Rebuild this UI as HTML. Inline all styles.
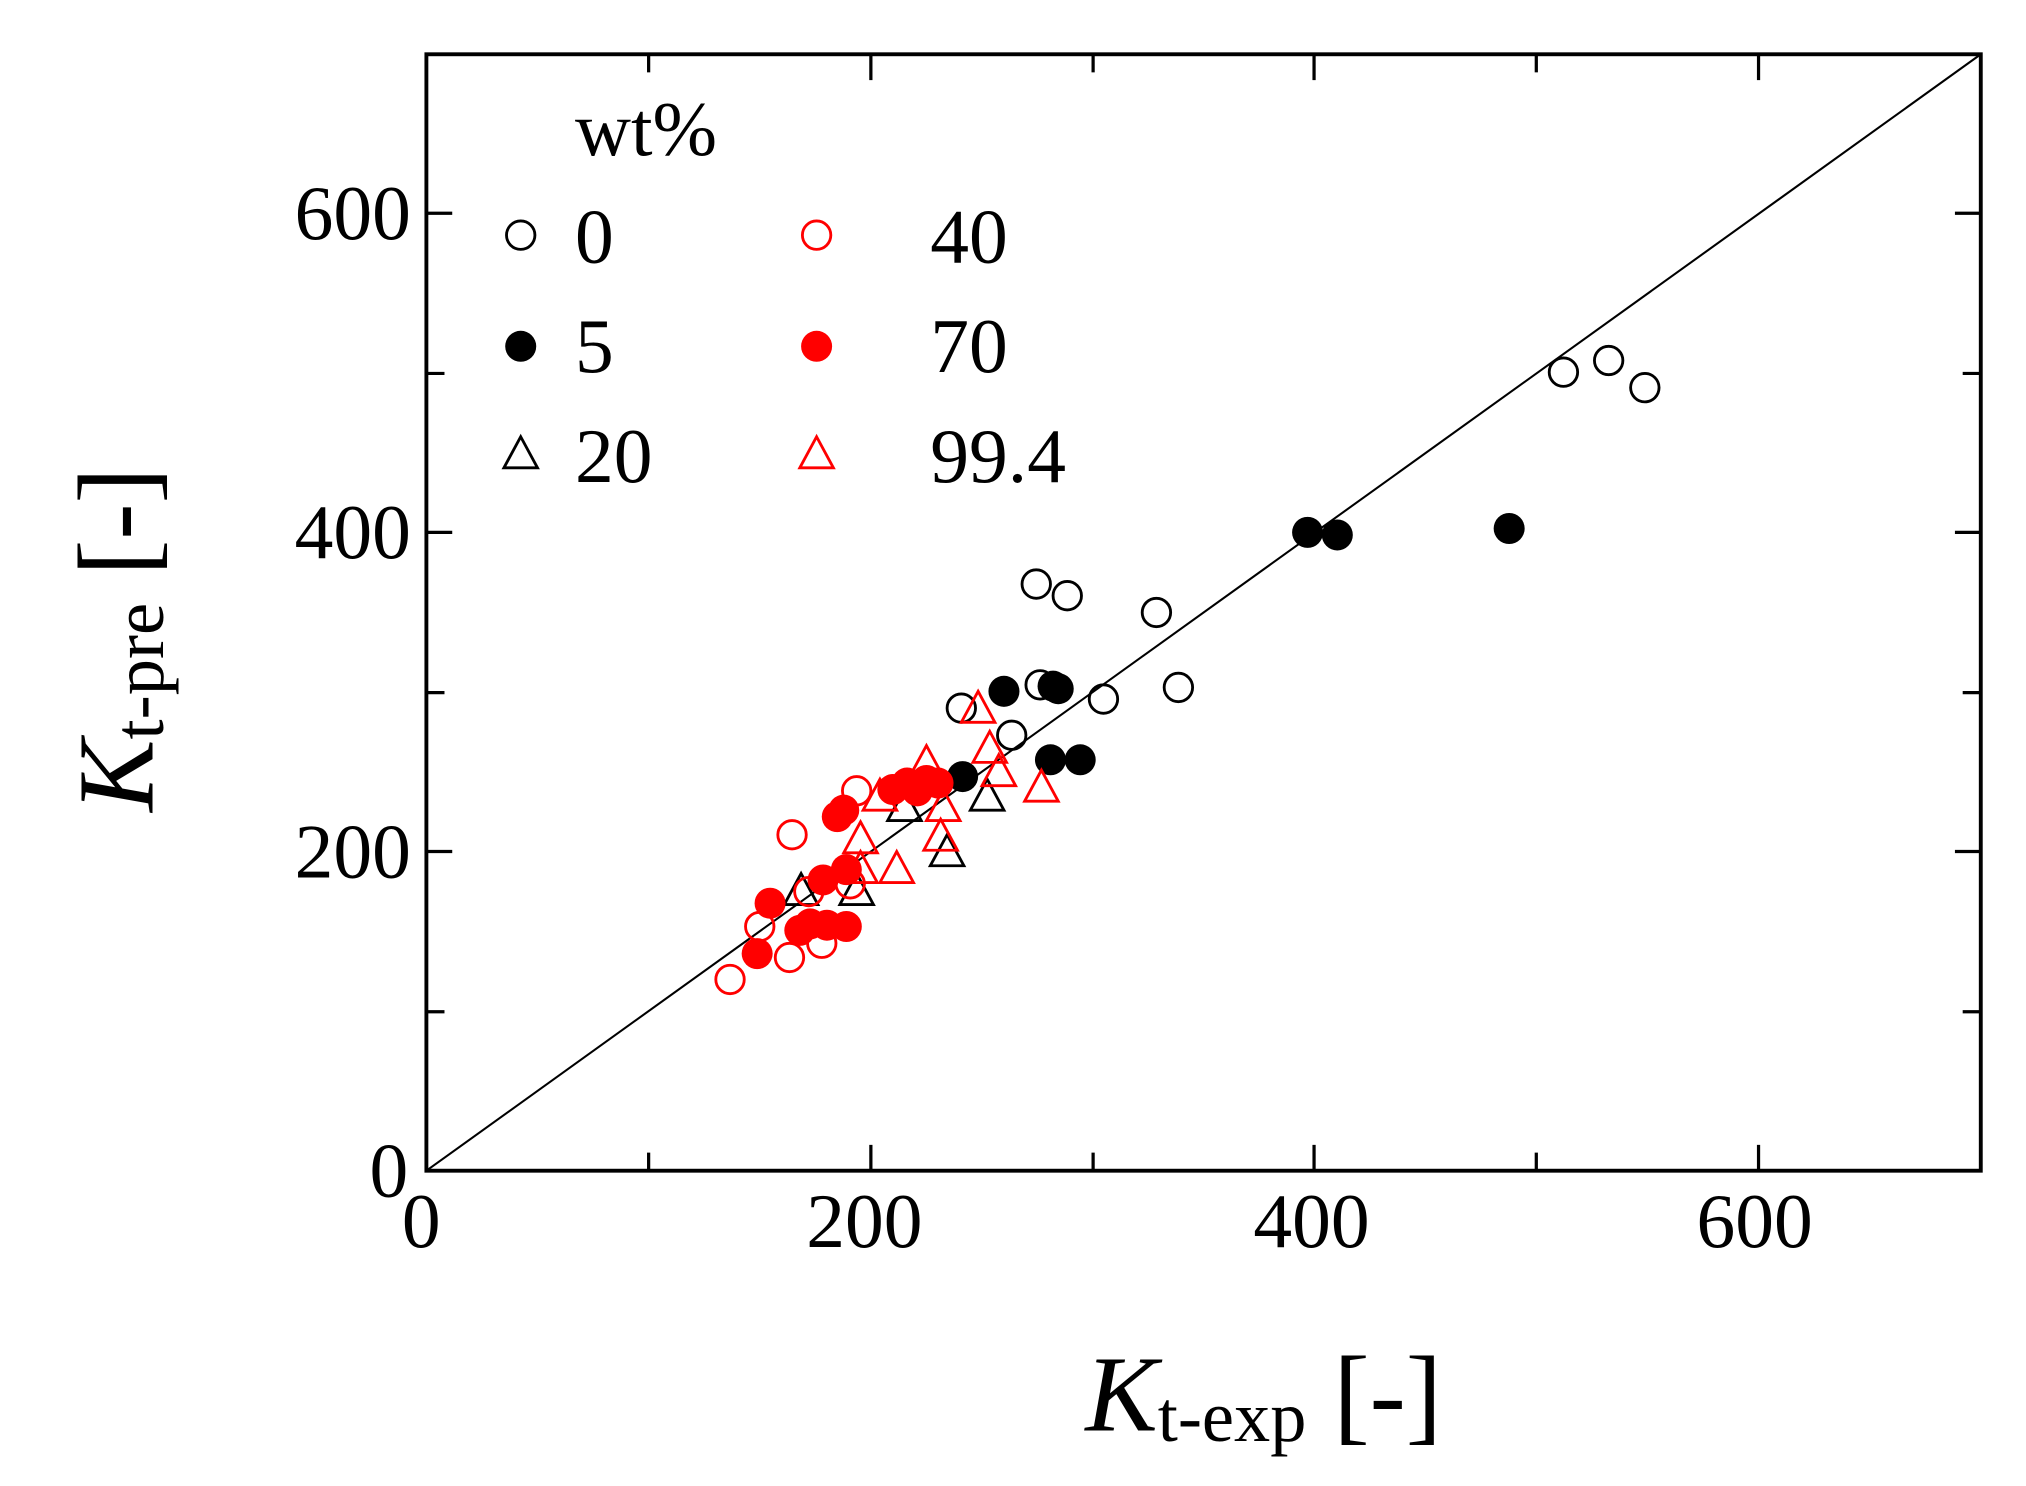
<!DOCTYPE html>
<html><head><meta charset="utf-8"><style>
html,body{margin:0;padding:0;background:#fff;}
svg{display:block;}
text{font-family:"Liberation Serif",serif;fill:#000;}
</style></head><body>
<svg width="2026" height="1486" viewBox="0 0 1568 1150" preserveAspectRatio="none" xmlns="http://www.w3.org/2000/svg">
<defs>
<circle id="oc" r="11" fill="none" stroke="#000" stroke-width="2.2"/>
<circle id="fc" r="12" fill="#000"/>
<circle id="ro" r="11" fill="none" stroke="#f00" stroke-width="2.2"/>
<circle id="rf" r="12" fill="#f00"/>
<path id="bt" d="M0,-14 L13,10 L-13,10 Z" fill="none" stroke="#000" stroke-width="2.2"/>
<path id="rt" d="M0,-14 L13,10 L-13,10 Z" fill="none" stroke="#f00" stroke-width="2.2"/>
</defs>
<!-- diagonal -->
<line x1="330" y1="906" x2="1533" y2="42" stroke="#000" stroke-width="1.6"/>
<!-- ticks -->
<g stroke="#000" stroke-width="2.5">
<line x1="502" y1="906" x2="502" y2="892"/><line x1="674" y1="906" x2="674" y2="886"/>
<line x1="846" y1="906" x2="846" y2="892"/><line x1="1017" y1="906" x2="1017" y2="886"/>
<line x1="1189" y1="906" x2="1189" y2="892"/><line x1="1361" y1="906" x2="1361" y2="886"/>
<line x1="502" y1="42" x2="502" y2="56"/><line x1="674" y1="42" x2="674" y2="62"/>
<line x1="846" y1="42" x2="846" y2="56"/><line x1="1017" y1="42" x2="1017" y2="62"/>
<line x1="1189" y1="42" x2="1189" y2="56"/><line x1="1361" y1="42" x2="1361" y2="62"/>
<line x1="330" y1="783" x2="344" y2="783"/><line x1="330" y1="659" x2="350" y2="659"/>
<line x1="330" y1="536" x2="344" y2="536"/><line x1="330" y1="412" x2="350" y2="412"/>
<line x1="330" y1="289" x2="344" y2="289"/><line x1="330" y1="165" x2="350" y2="165"/>
<line x1="1533" y1="783" x2="1519" y2="783"/><line x1="1533" y1="659" x2="1513" y2="659"/>
<line x1="1533" y1="536" x2="1519" y2="536"/><line x1="1533" y1="412" x2="1513" y2="412"/>
<line x1="1533" y1="289" x2="1519" y2="289"/><line x1="1533" y1="165" x2="1513" y2="165"/>
</g>
<rect x="330" y="42" width="1203" height="864" fill="none" stroke="#000" stroke-width="3"/>
<!-- tick labels -->
<g font-size="60" text-anchor="end">
<text x="318" y="185">600</text><text x="318" y="432">400</text>
<text x="318" y="679">200</text><text x="316" y="926">0</text>
</g>
<g font-size="60" text-anchor="middle">
<text x="326" y="965">0</text><text x="669" y="965">200</text>
<text x="1015" y="965">400</text><text x="1358" y="965">600</text>
</g>
<!-- axis titles -->
<text x="840" y="1107" font-size="84"><tspan font-style="italic">K</tspan><tspan font-size="56" dy="8">t-exp</tspan><tspan dy="-8"> [-]</tspan></text>
<text transform="translate(118,495) rotate(-90)" text-anchor="middle" font-size="84"><tspan font-style="italic">K</tspan><tspan font-size="56" dy="8">t-pre</tspan><tspan dy="-8"> [-]</tspan></text>
<!-- legend -->
<text x="445" y="120" font-size="60">wt%</text>
<g font-size="60">
<text x="445" y="203">0</text><text x="445" y="288">5</text><text x="445" y="373">20</text>
<text x="720" y="203">40</text><text x="720" y="288">70</text><text x="720" y="373">99.4</text>
</g>
<use href="#oc" x="403" y="182"/><use href="#fc" x="403" y="268"/><use href="#bt" x="403" y="352"/>
<use href="#ro" x="632" y="182"/><use href="#rf" x="632" y="268"/><use href="#rt" x="632" y="352"/>
<!-- data: black open -->
<use href="#oc" x="1210" y="288"/><use href="#oc" x="1245" y="279"/><use href="#oc" x="1273" y="300"/>
<use href="#oc" x="802" y="452"/><use href="#oc" x="826" y="461"/><use href="#oc" x="895" y="474"/>
<use href="#oc" x="912" y="532"/><use href="#oc" x="854" y="541"/><use href="#oc" x="805" y="530"/>
<use href="#oc" x="744" y="548"/><use href="#oc" x="783" y="569"/>
<!-- black filled -->
<use href="#fc" x="1012" y="412"/><use href="#fc" x="1035" y="414"/><use href="#fc" x="1168" y="409"/>
<use href="#fc" x="777" y="535"/><use href="#fc" x="815" y="531"/><use href="#fc" x="819" y="533"/>
<use href="#fc" x="813" y="588"/><use href="#fc" x="836" y="588"/><use href="#fc" x="745" y="601"/>
<!-- black triangles -->
<use href="#bt" x="764" y="617"/><use href="#bt" x="733" y="660"/><use href="#bt" x="663" y="690"/>
<use href="#bt" x="700" y="625"/><use href="#bt" x="620" y="690"/>
<!-- red open circles -->
<use href="#ro" x="613" y="646"/><use href="#ro" x="663" y="612"/><use href="#ro" x="565" y="758"/>
<use href="#ro" x="611" y="741"/><use href="#ro" x="636" y="730"/><use href="#ro" x="588" y="717"/>
<use href="#ro" x="658" y="684"/><use href="#ro" x="626" y="690"/>
<!-- red filled -->
<use href="#rf" x="702" y="606"/><use href="#rf" x="717" y="604"/><use href="#rf" x="691" y="611"/>
<use href="#rf" x="726" y="606"/><use href="#rf" x="653" y="627"/><use href="#rf" x="648" y="632"/>
<use href="#rf" x="655" y="673"/><use href="#rf" x="637" y="681"/><use href="#rf" x="596" y="699"/>
<use href="#rf" x="627" y="715"/><use href="#rf" x="655" y="717"/><use href="#rf" x="619" y="720"/>
<use href="#rf" x="586" y="738"/><use href="#rf" x="640" y="716"/><use href="#rf" x="710" y="612"/>
<!-- red triangles -->
<use href="#rt" x="757" y="549"/><use href="#rt" x="766" y="580"/><use href="#rt" x="773" y="598"/>
<use href="#rt" x="806" y="610"/><use href="#rt" x="717" y="591"/><use href="#rt" x="728" y="648"/>
<use href="#rt" x="666" y="673"/><use href="#rt" x="694" y="673"/><use href="#rt" x="666" y="650"/>
<use href="#rt" x="681" y="617"/><use href="#rt" x="730" y="625"/>
</svg>
</body></html>
